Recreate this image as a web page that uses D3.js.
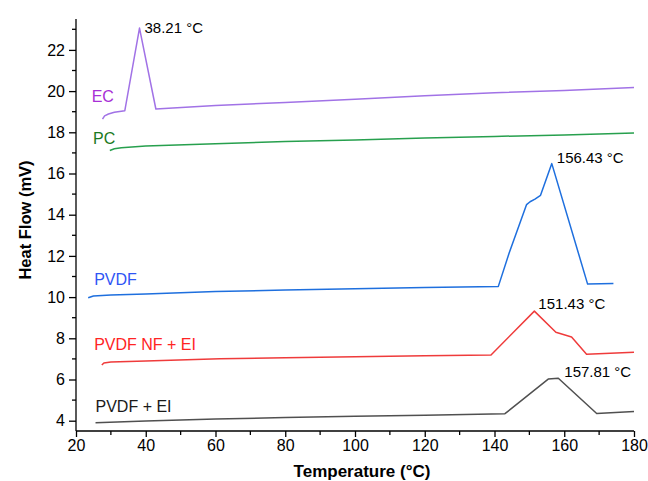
<!DOCTYPE html>
<html>
<head>
<meta charset="utf-8">
<script src="https://cdn.jsdelivr.net/npm/d3@7"></script>
<style>
  body { margin: 0; background: #fff; }
  text { font-family: "Liberation Sans", Arial, sans-serif; }
  .axis path, .axis line { stroke: #000; stroke-width: 1.3; }
  .axis text { font-size: 16px; fill: #000; }
</style>
</head>
<body>
<div id="chart"></div>
<script>
// datos (temperatura en C, flujo en mV)
const tempEC = [27.6, 28.2, 29.3, 31, 34.0, 38.21, 42.9, 60, 80, 100, 120, 140, 160, 180];
const valEC  = [18.64, 18.8, 18.89, 18.97, 19.05, 23.06, 19.13, 19.3, 19.45, 19.6, 19.77, 19.92, 20.03, 20.17];

const tempPC = [29.7, 31, 33, 40, 60, 80, 100, 120, 140, 160, 180];
const valPC  = [17.12, 17.2, 17.25, 17.33, 17.45, 17.55, 17.63, 17.72, 17.8, 17.87, 17.96];

const tempPVDF = [23.5, 25, 30, 40, 60, 80, 100, 120, 141.1, 144.2, 149.2, 150.2, 151.6, 153.2, 156.43, 166.7, 174.1];
const valPVDF  = [9.97, 10.05, 10.1, 10.15, 10.27, 10.34, 10.4, 10.46, 10.52, 12.14, 14.49, 14.63, 14.76, 14.94, 16.48, 10.63, 10.66];

const tempNF = [27.4, 28, 30, 40, 61.3, 80, 100, 120, 139, 151.43, 157.6, 162.1, 166.4, 180];
const valNF  = [6.7, 6.8, 6.85, 6.9, 7.01, 7.06, 7.1, 7.15, 7.19, 9.32, 8.29, 8.06, 7.23, 7.32];

const tempEI = [25.6, 40, 60, 80, 100, 120, 143, 155.4, 158.3, 169.3, 180];
const valEI  = [3.9, 3.98, 4.08, 4.15, 4.21, 4.27, 4.34, 6.02, 6.06, 4.35, 4.45];

const xTicks = [20, 40, 60, 80, 100, 120, 140, 160, 180];
const yTicks = [4, 6, 8, 10, 12, 14, 16, 18, 20, 22];

const series = [
  { name: "EC", t: tempEC, v: valEC, line: "#a172e6", lab: "#a82fd6", lx: 24.5, ly: 19.47 },
  { name: "PC", t: tempPC, v: valPC, line: "#27a04e", lab: "#1b7a22", lx: 24.9, ly: 17.43 },
  { name: "PVDF", t: tempPVDF, v: valPVDF, line: "#1e6fde", lab: "#2f55f5", lx: 25.2, ly: 10.59 },
  { name: "PVDF NF + EI", t: tempNF, v: valNF, line: "#ef3b3b", lab: "#ff2424", lx: 25.2, ly: 7.43 },
  { name: "PVDF + EI", t: tempEI, v: valEI, line: "#505050", lab: "#1a1a1a", lx: 25.6, ly: 4.42 }
];

// picos anotados
const peaks = [
  { label: "38.21 °C", t: 38.21, v: 23.06, dx: 5, dy: 5 },
  { label: "156.43 °C", t: 156.43, v: 16.48, dx: 5, dy: -1 },
  { label: "151.43 °C", t: 151.43, v: 9.32, dx: 4, dy: -2 },
  { label: "157.81 °C", t: 158.3, v: 6.06, dx: 6, dy: -1 }
];

const margin = { top: 19, right: 14, bottom: 50, left: 76 };
const totalW = 648, totalH = 481;
const w = totalW - margin.left - margin.right;
const h = totalH - margin.top - margin.bottom;

const svg = d3.select("#chart").append("svg")
  .attr("width", totalW)
  .attr("height", totalH);

const g = svg.append("g")
  .attr("transform", `translate(${margin.left}, ${margin.top})`);

const x = d3.scaleLinear().domain([20, 180]).range([0, w]);
const y = d3.scaleLinear().domain([3.5, 23.5]).range([h, 0]);

// ticks menores
const xMinor = d3.range(30, 180, 20);
const yMinor = d3.range(5, 24, 2);

const xAxis = g.append("g").attr("class", "axis").attr("transform", `translate(0,${h})`);
xAxis.call(d3.axisBottom(x).tickValues(xTicks).tickSize(6).tickSizeOuter(0).tickPadding(3));
xAxis.append("g").selectAll("line").data(xMinor).join("line")
  .attr("x1", d => x(d)).attr("x2", d => x(d)).attr("y1", 0).attr("y2", 4)
  .attr("stroke", "#000").attr("stroke-width", 1.3);

const yAxis = g.append("g").attr("class", "axis");
yAxis.call(d3.axisLeft(y).tickValues(yTicks).tickSize(7).tickSizeOuter(0).tickPadding(4));
yAxis.append("g").selectAll("line").data(yMinor).join("line")
  .attr("x1", 0).attr("x2", -4).attr("y1", d => y(d)).attr("y2", d => y(d))
  .attr("stroke", "#000").attr("stroke-width", 1.3);
yAxis.select(".domain").attr("d", `M0,${h}V0`);
xAxis.select(".domain").attr("d", `M0,0H${w}`);

// titulos de ejes
svg.append("text")
  .attr("x", 362)
  .attr("y", 477)
  .attr("text-anchor", "middle")
  .style("font-weight", "bold")
  .style("font-size", "17px")
  .text("Temperature (°C)");

svg.append("text")
  .attr("transform", `translate(31, 220) rotate(-90)`)
  .attr("text-anchor", "middle")
  .style("font-weight", "bold")
  .style("font-size", "16.5px")
  .text("Heat Flow (mV)");

const line = d3.line().x(d => x(d[0])).y(d => y(d[1]));

series.forEach(s => {
  const pts = s.t.map((t, i) => [t, s.v[i]]);
  g.append("path")
    .datum(pts)
    .attr("d", line)
    .attr("fill", "none")
    .attr("stroke", s.line)
    .attr("stroke-width", 1.5)
    .attr("stroke-linejoin", "round");

  g.append("text")
    .attr("x", x(s.lx))
    .attr("y", y(s.ly))
    .attr("fill", s.lab)
    .style("font-size", "16px")
    .text(s.name);
});

g.selectAll(".peak").data(peaks).join("text")
  .attr("class", "peak")
  .attr("x", d => x(d.t) + d.dx)
  .attr("y", d => y(d.v) + d.dy)
  .style("font-size", "15px")
  .attr("fill", "#000")
  .text(d => d.label);
</script>
</body>
</html>
